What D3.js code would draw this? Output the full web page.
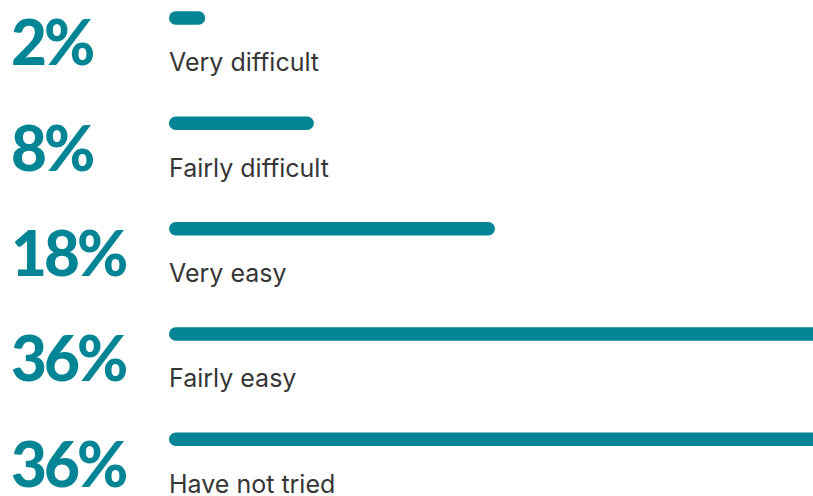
<!DOCTYPE html>
<html>
<head>
<meta charset="utf-8">
<script src="https://cdn.jsdelivr.net/npm/d3@7/dist/d3.min.js"></script>
<style>
  html, body { margin: 0; padding: 0; background: #fff; }
  svg { display: block; }
</style>
</head>
<body>
<svg width="813" height="496"></svg>
<script>
// valori
var categories = ['Very difficult', 'Fairly difficult', 'Very easy', 'Fairly easy', 'Have not tried']
var values = [2, 8, 18, 36, 36]

var teal = '#038596'
var svg = d3.select('svg')

// una riga per categoria
var y = d3.scaleBand()
  .domain(categories)
  .range([11.3, 11.3 + 105.3 * categories.length])

var x = d3.scaleLinear()
  .domain([0, 36])
  .range([0, 652])

var barX = 169
var barH = 13.5

var rows = svg.selectAll('g')
  .data(categories)
  .enter()
  .append('g')
  .attr('transform', function(d){ return 'translate(0,' + y(d) + ')' })

rows.append('rect')
  .attr('x', barX)
  .attr('y', 0)
  .attr('width', function(d,i){ return x(values[i]) })
  .attr('height', barH)
  .attr('rx', barH / 2)
  .attr('fill', teal)

// percentuale grande a sinistra
rows.append('text')
  .attr('x', 11)
  .attr('y', 54)
  .attr('font-family', 'Lato, sans-serif')
  .attr('font-weight', 900)
  .attr('font-size', 62)
  .attr('letter-spacing', -3)
  .attr('fill', teal)
  .text(function(d,i){ return values[i] + '%' })

// etichetta sotto la barra
rows.append('text')
  .attr('x', barX)
  .attr('y', 60)
  .attr('font-family', 'Inter, sans-serif')
  .attr('font-size', 25)
  .attr('fill', '#363636')
  .text(function(d){ return d })
</script>
</body>
</html>
